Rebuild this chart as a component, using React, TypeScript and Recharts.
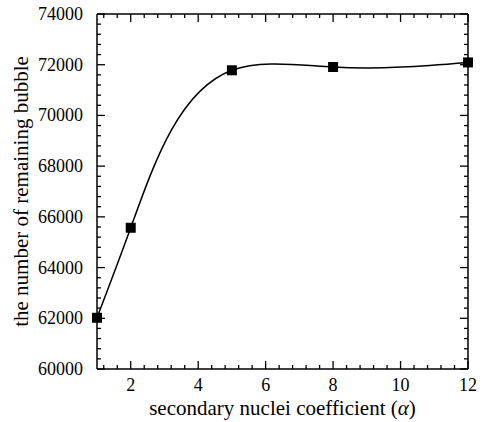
import { LineChart, Line, XAxis, YAxis, Label } from 'recharts';

// secondary nuclei coefficient (alpha) and remaining bubble count
const alphaValues = [1, 2, 5, 8, 12];
const bubbleCounts = [62020, 65570, 71780, 71910, 72090];

const xMajorTicks = [2, 4, 6, 8, 10, 12];
const yMajorTicks = [60000, 62000, 64000, 66000, 68000, 70000, 72000, 74000];

const data = alphaValues.map((a, i) => ({ alpha: a, bubbles: bubbleCounts[i] }));

// minor ticks: every 0.4 on x, every 400 on y
const xTicks = Array.from({ length: 28 }, (_, i) => Number((1.2 + i * 0.4).toFixed(1)));
const yTicks = Array.from({ length: 36 }, (_, i) => 60000 + i * 400);

const FONT = "'Liberation Serif', 'DejaVu Serif', serif";
const AXIS = { stroke: '#000', strokeWidth: 1.5 };

// natural cubic spline, chord-length parameterised
function naturalM(v: number[], h: number[]) {
  const n = v.length;
  const M = new Array(n).fill(0);
  if (n < 3) return M;
  const c: number[] = new Array(n).fill(0);
  const d: number[] = new Array(n).fill(0);
  for (let i = 1; i < n - 1; i++) {
    const a = h[i - 1];
    const b = 2 * (h[i - 1] + h[i]);
    const r = 6 * ((v[i + 1] - v[i]) / h[i] - (v[i] - v[i - 1]) / h[i - 1]);
    const m = b - a * c[i - 1];
    c[i] = h[i] / m;
    d[i] = (r - a * d[i - 1]) / m;
  }
  for (let i = n - 2; i >= 1; i--) M[i] = d[i] - c[i] * M[i + 1];
  return M;
}

function chordSpline(context: any) {
  let xs: number[] = [];
  let ys: number[] = [];
  return {
    areaStart() {},
    areaEnd() {},
    lineStart() {
      xs = [];
      ys = [];
    },
    point(x: number, y: number) {
      xs.push(+x);
      ys.push(+y);
    },
    lineEnd() {
      const n = xs.length;
      if (!n) return;
      context.moveTo(xs[0], ys[0]);
      if (n === 2) context.lineTo(xs[1], ys[1]);
      if (n < 3) return;
      const h: number[] = [];
      for (let i = 0; i < n - 1; i++) h.push(Math.hypot(xs[i + 1] - xs[i], ys[i + 1] - ys[i]) || 1e-6);
      const Mx = naturalM(xs, h);
      const My = naturalM(ys, h);
      for (let i = 0; i < n - 1; i++) {
        const hi = h[i];
        const dx0 = (xs[i + 1] - xs[i]) / hi - (hi * (2 * Mx[i] + Mx[i + 1])) / 6;
        const dx1 = (xs[i + 1] - xs[i]) / hi + (hi * (Mx[i] + 2 * Mx[i + 1])) / 6;
        const dy0 = (ys[i + 1] - ys[i]) / hi - (hi * (2 * My[i] + My[i + 1])) / 6;
        const dy1 = (ys[i + 1] - ys[i]) / hi + (hi * (My[i] + 2 * My[i + 1])) / 6;
        context.bezierCurveTo(
          xs[i] + (dx0 * hi) / 3,
          ys[i] + (dy0 * hi) / 3,
          xs[i + 1] - (dx1 * hi) / 3,
          ys[i + 1] - (dy1 * hi) / 3,
          xs[i + 1],
          ys[i + 1]
        );
      }
    },
  };
}

function XTick(props: any) {
  const { x, y, payload, side } = props;
  const v = payload.value;
  const major = xMajorTicks.includes(v);
  const len = major ? 8 : 4;
  const dir = side === 'bottom' ? -1 : 1;
  return (
    <g>
      <line x1={x} x2={x} y1={y} y2={y + dir * len} stroke="#000" strokeWidth={1.3} />
      {side === 'bottom' && major && (
        <text x={x} y={y + 22} textAnchor="middle" fontSize={18} style={{ fontFamily: FONT }} fill="#000">
          {v}
        </text>
      )}
    </g>
  );
}

function YTick(props: any) {
  const { x, y, payload, side } = props;
  const v = payload.value;
  const major = yMajorTicks.includes(v);
  const len = major ? 8 : 4;
  const dir = side === 'left' ? 1 : -1;
  return (
    <g>
      <line x1={x} x2={x + dir * len} y1={y} y2={y} stroke="#000" strokeWidth={1.3} />
      {side === 'left' && major && (
        <text x={x - 14} y={y + 6} textAnchor="end" fontSize={18} style={{ fontFamily: FONT }} fill="#000">
          {v}
        </text>
      )}
    </g>
  );
}

const XTitle = (props: any) => {
  const { x, y, width } = props.viewBox;
  return (
    <text x={x + width / 2} y={y + 46} textAnchor="middle" fontSize={21} style={{ fontFamily: FONT }} fill="#000">
      secondary nuclei coefficient (<tspan fontStyle="italic">α</tspan>)
    </text>
  );
};

const YTitle = (props: any) => {
  const { y, height } = props.viewBox;
  const cx = 28;
  const cy = y + height / 2;
  return (
    <text
      x={cx}
      y={cy}
      transform={`rotate(-90, ${cx}, ${cy})`}
      textAnchor="middle"
      fontSize={21}
      style={{ fontFamily: FONT }}
      fill="#000"
    >
      the number of remaining bubble
    </text>
  );
};

const Square = (p: any) => (
  <rect key={`sq-${p.index}`} x={p.cx - 5} y={p.cy - 5} width={10} height={10} fill="#000" />
);

export default function App() {
  return (
    <div style={{ position: 'absolute', left: 0, top: 0, background: '#fff', fontFamily: FONT }}>
      <LineChart width={488} height={422} data={data} margin={{ top: 13, right: 19, bottom: 0, left: 0 }}>
        <XAxis
          xAxisId="bottom"
          dataKey="alpha"
          type="number"
          domain={[1, 12]}
          ticks={xTicks}
          interval={0}
          height={53}
          tickSize={0}
          tickMargin={0}
          axisLine={AXIS}
          tickLine={false}
          tick={<XTick side="bottom" />}
        >
          <Label content={XTitle} />
        </XAxis>
        <XAxis
          xAxisId="top"
          orientation="top"
          dataKey="alpha"
          type="number"
          domain={[1, 12]}
          ticks={xTicks}
          interval={0}
          height={1}
          tickSize={0}
          tickMargin={0}
          axisLine={AXIS}
          tickLine={false}
          tick={<XTick side="top" />}
        />
        <YAxis
          yAxisId="left"
          type="number"
          domain={[60000, 74000]}
          ticks={yTicks}
          interval={0}
          width={97}
          tickSize={0}
          tickMargin={0}
          axisLine={AXIS}
          tickLine={false}
          tick={<YTick side="left" />}
        >
          <Label content={YTitle} />
        </YAxis>
        <YAxis
          yAxisId="right"
          orientation="right"
          type="number"
          domain={[60000, 74000]}
          ticks={yTicks}
          interval={0}
          width={1}
          tickSize={0}
          tickMargin={0}
          axisLine={AXIS}
          tickLine={false}
          tick={<YTick side="right" />}
        />
        <Line
          xAxisId="top"
          yAxisId="right"
          dataKey="bubbles"
          stroke="none"
          dot={false}
          activeDot={false}
          isAnimationActive={false}
        />
        <Line
          xAxisId="bottom"
          yAxisId="left"
          type={chordSpline as any}
          dataKey="bubbles"
          stroke="#000"
          strokeWidth={1.5}
          dot={Square}
          activeDot={false}
          isAnimationActive={false}
        />
      </LineChart>
    </div>
  );
}
